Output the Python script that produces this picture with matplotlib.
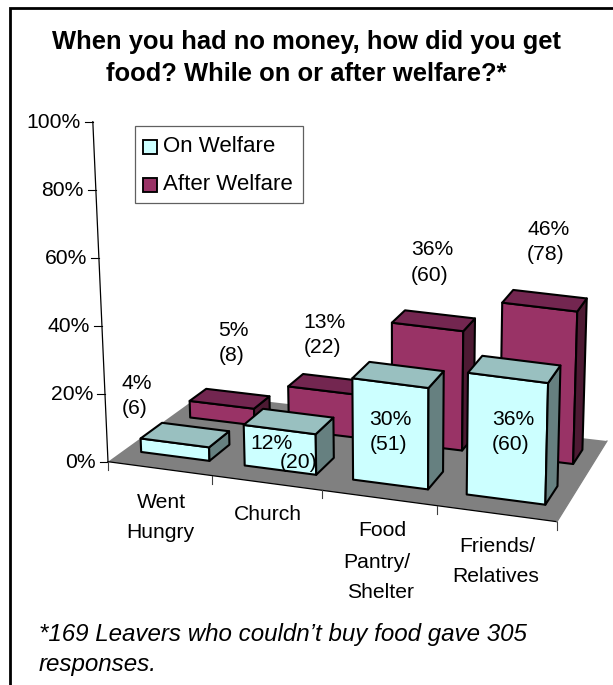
import numpy as np
import matplotlib
matplotlib.use('Agg')
import matplotlib.pyplot as plt
from matplotlib.patches import Polygon, Rectangle

plt.rcParams['font.family'] = ['Liberation Sans', 'DejaVu Sans']

# survey results
categories = [['Went', 'Hungry'], ['Church'], ['Food', 'Pantry/', 'Shelter'], ['Friends/', 'Relatives']]
on_welfare_pct = [4, 12, 30, 36]
on_welfare_n = [6, 20, 51, 60]
after_welfare_pct = [5, 13, 36, 46]
after_welfare_n = [8, 22, 60, 78]
y_ticks = [0, 20, 40, 60, 80, 100]

W, H = 613, 685
fig = plt.figure(figsize=(W / 100, H / 100), dpi=100)
ax = fig.add_axes([0, 0, 1, 1])
ax.set_xlim(0, W)
ax.set_ylim(H, 0)
ax.axis('off')

# frame on the left and top of the slide
ax.plot([10, 10, W], [H, 7.5, 7.5], color='black', lw=2.0, solid_joinstyle='miter')

ax.text(306, 42, 'When you had no money, how did you get', fontsize=18.4, fontweight='bold', ha='center', va='center')
ax.text(306, 74, 'food? While on or after welfare?*', fontsize=18.4, fontweight='bold', ha='center', va='center')


# floor perspective: (u, v) -> pixel, u along categories, v into the depth
floor_src = [(0, 0), (4, 0), (4, 1), (0, 1)]
floor_dst = [(108, 461.7), (557, 521.7), (607, 441), (202, 394)]
A, b = [], []
for (u, v), (x, y) in zip(floor_src, floor_dst):
    A.append([u, v, 1, 0, 0, 0, -u * x, -v * x])
    A.append([0, 0, 0, u, v, 1, -u * y, -v * y])
    b += [x, y]
h = np.append(np.linalg.solve(np.array(A, float), np.array(b, float)), 1).reshape(3, 3)


def project(u, v, z=0):
    p = h @ np.array([u, v, 1.0])
    x, y = p[0] / p[2], p[1] / p[2]
    # heights lean outwards a little away from the centre of the view
    return x + z * (x - 400) * 0.00052, y - z * (3.40 - 0.13 * v)


def draw_bar(i, value, u_span, v_span, colors):
    u0, u1 = i + u_span[0], i + u_span[1]
    v0, v1 = v_span
    front = [project(u0, v0), project(u1, v0), project(u1, v0, value), project(u0, v0, value)]
    side = [project(u1, v0), project(u1, v1), project(u1, v1, value), project(u1, v0, value)]
    top = [project(u0, v0, value), project(u1, v0, value), project(u1, v1, value), project(u0, v1, value)]
    for pts, c in zip([front, side, top], colors):
        ax.add_patch(Polygon(pts, closed=True, fc=c, ec='black', lw=1.5, joinstyle='round'))


# floor
ax.add_patch(Polygon([project(*p) for p in floor_src], closed=True, fc='#808080', ec='none'))
ax.plot(*zip(project(0, 0), project(4, 0)), color='black', lw=0.9)
ax.plot(*zip(project(4, 0), project(4, 1)), color='#808080', lw=0.9)

# value axis
x0, y0 = project(0, 0)
for t in y_ticks:
    xt, yt = project(0, 0, t)
    ax.plot([xt - 8, xt], [yt, yt], color='black', lw=0.8)
    ax.text(xt - 12, yt + 1, f'{t}%', fontsize=15.2, ha='right', va='center')
ax.plot(*zip(project(0, 0, 0), project(0, 0, 100)), color='black', lw=0.9)
ax.plot([x0, x0], [y0, y0 + 8], color='#404040', lw=0.8)

# category ticks along the front edge
for i in range(1, 5):
    xt, yt = project(i, 0)
    ax.plot([xt, xt], [yt, yt + 8], color='#404040', lw=0.8)

# bars, rear series first
for i, value in enumerate(after_welfare_pct):
    draw_bar(i, value, (0.185, 0.84), (0.66, 0.85), ['#993366', '#4D1A33', '#732650'])
for i, value in enumerate(on_welfare_pct):
    draw_bar(i, value, (0.165, 0.83), (0.16, 0.38), ['#CCFFFF', '#668080', '#99C0C0'])

# value labels: percent and count have their own anchors
pct_xy_on = [(122, 383), (250, 443), (369, 419), (492, 419)]
n_xy_on = [(122, 408), (279.5, 462), (370, 444), (492, 444)]
pct_xy_after = [(218.5, 330), (303.5, 322), (411, 249), (527, 229)]
n_xy_after = [(218.5, 355), (303.5, 347), (411, 275), (527, 254)]
for pct, n, pxy, nxy in zip(on_welfare_pct + after_welfare_pct, on_welfare_n + after_welfare_n,
                            pct_xy_on + pct_xy_after, n_xy_on + n_xy_after):
    ax.text(pxy[0], pxy[1], f'{pct}%', fontsize=15.2, ha='left', va='center')
    ax.text(nxy[0], nxy[1], f'({n})', fontsize=15.2, ha='left', va='center')

# category labels, staggered by the floor angle
cat_xs = [[161, 160.6], [268], [382, 377, 381], [497, 496]]
cat_ys = [[502, 533], [515], [531, 562, 592], [547, 577]]
for lines, xs, ys in zip(categories, cat_xs, cat_ys):
    for line, x, y in zip(lines, xs, ys):
        ax.text(x, y, line, fontsize=15.2, ha='center', va='center')

# legend
ax.add_patch(Rectangle((134.5, 126), 168.5, 77, fc='white', ec='#606060', lw=0.9, zorder=5))
ax.add_patch(Rectangle((143, 140), 14, 14, fc='#CCFFFF', ec='black', lw=1.35, zorder=6))
ax.add_patch(Rectangle((143, 178), 14, 14, fc='#993366', ec='black', lw=1.35, zorder=6))
ax.text(163, 146, 'On Welfare', fontsize=16, ha='left', va='center', zorder=6)
ax.text(163, 184, 'After Welfare', fontsize=16, ha='left', va='center', zorder=6)

# footnote
ax.text(39, 634.5, '*169 Leavers who couldn\u2019t buy food gave 305', fontsize=17.4, style='italic', ha='left', va='center')
ax.text(39, 664.5, 'responses.', fontsize=17.4, style='italic', ha='left', va='center')

fig.savefig('out.png', dpi=100)
plt.close()
